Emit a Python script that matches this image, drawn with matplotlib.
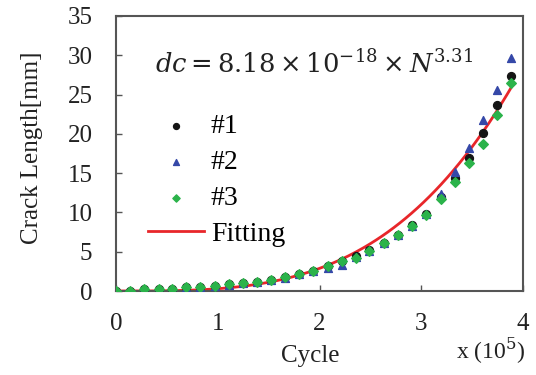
import numpy as np
import matplotlib.pyplot as plt

plt.rcParams['font.family'] = ['Liberation Serif', 'DejaVu Serif']
plt.rcParams['mathtext.fontset'] = 'dejavuserif'

# Cycle (x 10^5)
cycle = [0, 0.14, 0.28, 0.42, 0.55, 0.69, 0.83, 0.97, 1.11, 1.25, 1.39, 1.52, 1.66, 1.80, 1.94,
         2.08, 2.22, 2.36, 2.49, 2.63, 2.77, 2.91, 3.05, 3.19, 3.33, 3.47, 3.61, 3.74, 3.88]

# crack length [mm]
s1 = [0, 0, 0.2, 0.2, 0.2, 0.5, 0.5, 0.7, 0.9, 1.0, 1.2, 1.4, 1.75, 2.2, 2.6,
      3.2, 3.8, 4.5, 5.2, 6.1, 7.1, 8.4, 9.8, 12.0, 14.4, 16.9, 20.1, 23.7, 27.4]
s2 = [0, 0, 0.2, 0.2, 0.2, 0.4, 0.5, 0.6, 0.8, 1.0, 1.2, 1.4, 1.7, 2.2, 2.5,
      2.9, 3.3, 4.3, 5.1, 6.1, 7.1, 8.3, 9.8, 12.4, 15.1, 18.2, 21.8, 25.6, 29.6]
s3 = [0, 0, 0.2, 0.2, 0.2, 0.5, 0.5, 0.7, 0.9, 1.0, 1.2, 1.4, 1.8, 2.2, 2.6,
      3.2, 3.8, 4.2, 5.1, 6.1, 7.1, 8.3, 9.7, 11.7, 13.9, 16.3, 18.7, 22.4, 26.5]

# fitted curve dc = a * N^b
a_fit = 8.18e-18
b_fit = 3.31
N = np.linspace(0, 3.88, 200)
dc = a_fit * (N * 1e5) ** b_fit

fig = plt.figure(figsize=(5.36, 3.75), dpi=100)
ax = fig.add_axes([116/536, 1 - 291/375, 407/536, 275/375])

ax.plot(N, dc, color='#e8262a', lw=2, label='Fitting', zorder=2)
ax.scatter(cycle, s1, s=32, marker='o', color='#151515', label='#1', zorder=3)
ax.scatter(cycle, s2, s=32, marker='^', color='#3548a8', label='#2', zorder=3)
ax.scatter(cycle, s3, s=24, marker='D', color='#2bb34a', label='#3', zorder=4)

ax.set_xlim(0, 4)
ax.set_ylim(0, 35)
ax.set_xticks([0, 1, 2, 3, 4])
ax.set_yticks(range(0, 36, 5))
ax.tick_params(direction='in', length=4, width=1, colors='#555555', labelcolor='#222222',
               labelsize=18)
ax.tick_params(axis='x', pad=16)
ax.tick_params(axis='y', pad=17)
for sp in ax.spines.values():
    sp.set_color('#555555')
    sp.set_linewidth(1.5)

ax.set_ylabel('Crack Length[mm]', fontsize=18, color='#222222')
ax.yaxis.set_label_coords(-0.18, 0.52)
ax.set_xlabel('Cycle', fontsize=18, color='#222222')
ax.xaxis.set_label_coords(0.477, -0.195)
fig.text(491/536, 1 - 351/375, r'x (10$^{5}$)', fontsize=17, ha='center', va='center', color='#222222')

ax.text(0.38, 27.7, r'$dc = 8.18 \times 10^{-18} \times N^{3.31}$', fontsize=18.5, color='#222222')

h, l = ax.get_legend_handles_labels()
order = [1, 2, 3, 0]
ax.legend([h[i] for i in order], [l[i] for i in order], loc='upper left',
          bbox_to_anchor=(0.045, 0.695), frameon=False,
          prop={'family': 'Liberation Serif', 'size': 20}, handlelength=2.0,
          labelspacing=0.38, borderpad=0.0, handletextpad=0.25, markerscale=0.75)

plt.savefig('out.png', dpi=100)
